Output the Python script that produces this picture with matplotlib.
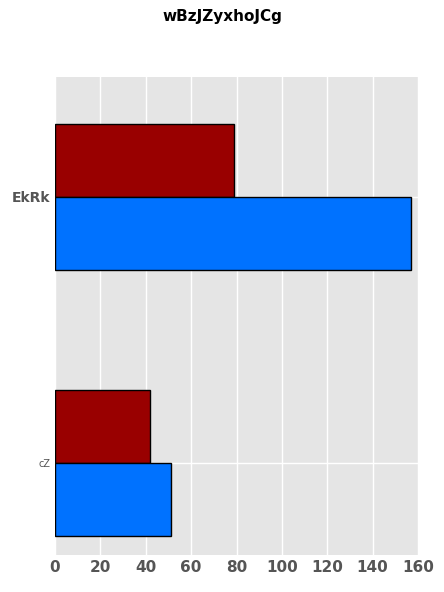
import matplotlib
matplotlib.use("Agg")
import matplotlib.pyplot as plt
import numpy as np

categories = ["cZ", "EkRk"]
red_values = [42, 79]
blue_values = [51, 157]

fig = plt.figure(figsize=(4.44, 5.92), dpi=100)
ax = fig.add_axes([55 / 444, 1 - 555 / 592, 363 / 444, 478 / 592])
ax.set_facecolor("#e5e5e5")

y = np.arange(len(categories))
h = 0.275
ax.barh(y + h / 2, red_values, height=h, color="#990000", edgecolor="black", linewidth=1, zorder=3)
ax.barh(y - h / 2, blue_values, height=h, color="#0072ff", edgecolor="black", linewidth=1, zorder=3)

ax.set_xlim(0, 160)
ax.set_ylim(-0.346, 1.45)
ax.set_xticks(range(0, 161, 20))
ax.set_yticks(y)
ax.set_yticklabels(categories)
ax.grid(True, color="white", linewidth=1, zorder=0)
for s in ax.spines.values():
    s.set_visible(False)
ax.tick_params(length=0, colors="#555555")
for lbl in ax.get_xticklabels():
    lbl.set_fontsize(11)
    lbl.set_fontweight("bold")
ylbls = ax.get_yticklabels()
ylbls[0].set_fontsize(7)
ylbls[1].set_fontsize(10)
ylbls[1].set_fontweight("bold")

fig.suptitle("wBzJZyxhoJCg", y=0.985, fontsize=11, fontweight="bold")
fig.savefig("out.png", dpi=100)
